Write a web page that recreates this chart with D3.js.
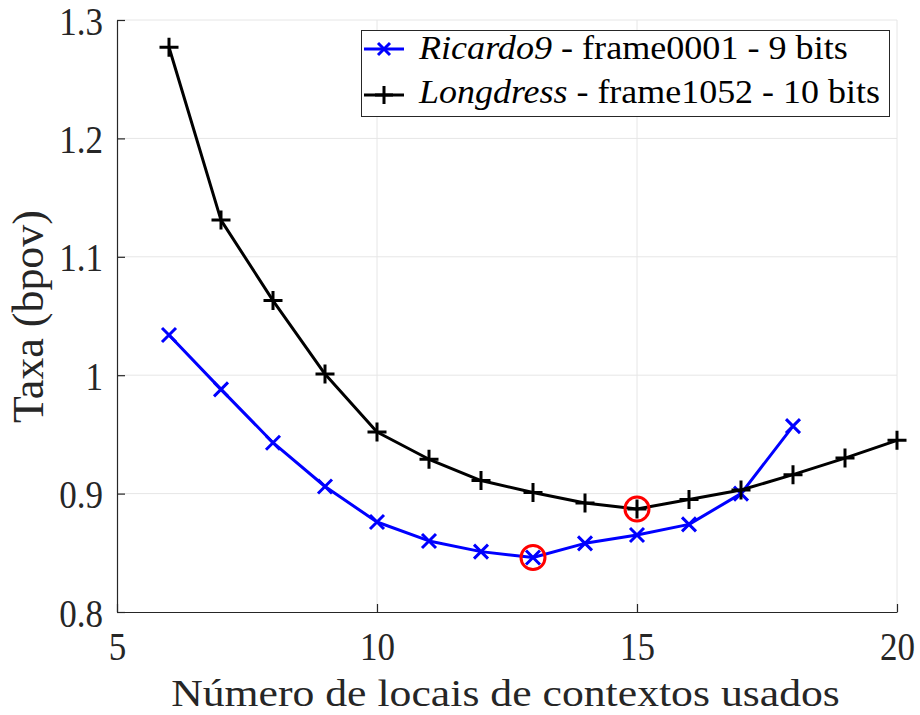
<!DOCTYPE html>
<html>
<head>
<meta charset="utf-8">
<script src="https://cdn.jsdelivr.net/npm/d3@7"></script>
<style>
  html, body { margin: 0; padding: 0; background: #fff; }
  svg { display: block; }
</style>
</head>
<body>
<svg id="chart" width="920" height="715"></svg>
<script>
// Number of context locations used
const contexts = [6, 7, 8, 9, 10, 11, 12, 13, 14, 15, 16, 17, 18, 19, 20];
// Rate (bpov) for Ricardo9 frame0001 (9 bits), contexts 6..18
const ricardoRate = [1.034, 0.988, 0.943, 0.906, 0.876, 0.860, 0.851, 0.846, 0.858, 0.865, 0.874, 0.900, 0.957];
// Rate (bpov) for Longdress frame1052 (10 bits), contexts 6..20
const longdressRate = [1.277, 1.131, 1.063, 1.001, 0.952, 0.929, 0.911, 0.901, 0.892, 0.887, 0.895, 0.903, 0.916, 0.930, 0.945];
const xTicks = [5, 10, 15, 20];
const yTicks = [0.8, 0.9, 1.0, 1.1, 1.2, 1.3];
const yTickLabels = ["0.8", "0.9", "1", "1.1", "1.2", "1.3"];

const svg = d3.select("#chart");
const m = { left: 117, right: 897, top: 20, bottom: 612 };
const axisColor = "#262626";
const FONT = '"Liberation Serif", "Times New Roman", serif';

const x = d3.scaleLinear().domain([5, 20]).range([m.left, m.right]);
const y = d3.scaleLinear().domain([0.8, 1.3]).range([m.bottom, m.top]);

// horizontal scale factor that makes a text span the given width
function fitWidth(textSel, width) {
  const w = textSel.node().getComputedTextLength();
  return width / w;
}

// grid
const grid = svg.append("g").attr("stroke", "#e6e6e6").attr("stroke-width", 1);
xTicks.slice(1).forEach(t => {
  grid.append("line").attr("x1", x(t)).attr("x2", x(t)).attr("y1", m.top).attr("y2", m.bottom);
});
yTicks.slice(1).forEach(t => {
  grid.append("line").attr("x1", m.left).attr("x2", m.right).attr("y1", y(t)).attr("y2", y(t));
});

// axes
const xAxis = d3.axisBottom(x).tickValues(xTicks).tickSize(-8).tickSizeOuter(0).tickFormat(d3.format("d"));
const yAxis = d3.axisLeft(y).tickValues(yTicks).tickSize(-8).tickSizeOuter(0).tickFormat((d, i) => yTickLabels[i]);

const gx = svg.append("g").attr("transform", `translate(0,${m.bottom})`).call(xAxis);
const gy = svg.append("g").attr("transform", `translate(${m.left},0)`).call(yAxis);
[gx, gy].forEach(g => {
  g.attr("font-family", null);
  g.select(".domain").attr("stroke", axisColor).attr("stroke-width", 1.2);
  g.selectAll(".tick line").attr("stroke", axisColor).attr("stroke-width", 1.2);
  g.selectAll(".tick text").style("font-family", FONT).attr("fill", axisColor).attr("font-size", 40)
    .attr("x", 0).attr("y", 0).attr("dy", null);
});
gx.selectAll(".tick text").attr("text-anchor", "middle")
  .attr("transform", "translate(0,48) scale(0.875,1)");
gy.selectAll(".tick text").attr("text-anchor", "end")
  .attr("transform", "translate(-14,14) scale(0.875,1)");

// axis titles
const xt = svg.append("text").style("font-family", FONT).attr("text-anchor", "middle")
  .attr("font-size", 37).attr("fill", axisColor)
  .text("Número de locais de contextos usados");
xt.attr("transform", `translate(505.5,706) scale(${fitWidth(xt, 669)},1)`);

const yt = svg.append("text").style("font-family", FONT).attr("text-anchor", "middle")
  .attr("font-size", 44).attr("fill", axisColor)
  .text("Taxa (bpov)");
yt.attr("transform", `translate(43,316.5) rotate(-90) scale(${fitWidth(yt, 213)},1)`);

const line = d3.line().x(d => x(d[0])).y(d => y(d[1]));
const ricardoPts = ricardoRate.map((v, i) => [contexts[i], v]);
const longPts = longdressRate.map((v, i) => [contexts[i], v]);

function crossMarker(g, cx, cy, s, color, w) {
  g.append("path").attr("d", `M${cx - s},${cy - s}L${cx + s},${cy + s}M${cx - s},${cy + s}L${cx + s},${cy - s}`)
    .attr("stroke", color).attr("stroke-width", w).attr("fill", "none");
}
function plusMarker(g, cx, cy, s, color, w) {
  g.append("path").attr("d", `M${cx - s},${cy}L${cx + s},${cy}M${cx},${cy - s}L${cx},${cy + s}`)
    .attr("stroke", color).attr("stroke-width", w).attr("fill", "none");
}

// Ricardo9 series
svg.append("path").datum(ricardoPts).attr("d", line)
  .attr("fill", "none").attr("stroke", "#0000ff").attr("stroke-width", 3).attr("stroke-linejoin", "round");
const rm = svg.append("g");
ricardoPts.forEach(d => crossMarker(rm, x(d[0]), y(d[1]), 7, "#0000ff", 3));

// Longdress series
svg.append("path").datum(longPts).attr("d", line)
  .attr("fill", "none").attr("stroke", "#000").attr("stroke-width", 3).attr("stroke-linejoin", "round");
const lm = svg.append("g");
longPts.forEach(d => plusMarker(lm, x(d[0]), y(d[1]), 9.5, "#000", 3));

// minimum rate highlights
const ricMinIdx = d3.minIndex(ricardoRate);
const longMinIdx = d3.minIndex(longdressRate);
[[contexts[ricMinIdx], ricardoRate[ricMinIdx]], [contexts[longMinIdx], longdressRate[longMinIdx]]].forEach(d => {
  svg.append("circle").attr("cx", x(d[0])).attr("cy", y(d[1])).attr("r", 12)
    .attr("fill", "none").attr("stroke", "#ff0000").attr("stroke-width", 3);
});

// legend
const lg = svg.append("g");
lg.append("rect").attr("x", 361.5).attr("y", 30.5).attr("width", 528).attr("height", 86)
  .attr("fill", "#fff").attr("stroke", axisColor).attr("stroke-width", 1);
const entries = [
  { name: "Ricardo9", rest: " - frame0001 - 9 bits", color: "#0000ff", marker: "x", yy: 49, base: 59, width: 429 },
  { name: "Longdress", rest: " - frame1052 - 10 bits", color: "#000", marker: "+", yy: 95, base: 103, width: 461 }
];
entries.forEach(e => {
  lg.append("line").attr("x1", 364).attr("x2", 404).attr("y1", e.yy).attr("y2", e.yy)
    .attr("stroke", e.color).attr("stroke-width", 3);
  if (e.marker === "x") crossMarker(lg, 384, e.yy, 6, e.color, 3);
  else plusMarker(lg, 384, e.yy, 9, e.color, 3);
  const t = lg.append("text").style("font-family", FONT).attr("font-size", 33).attr("fill", "#000");
  t.append("tspan").attr("font-style", "italic").text(e.name);
  t.append("tspan").text(e.rest);
  t.attr("transform", `translate(419,${e.base}) scale(${fitWidth(t, e.width)},1)`);
});
</script>
</body>
</html>
